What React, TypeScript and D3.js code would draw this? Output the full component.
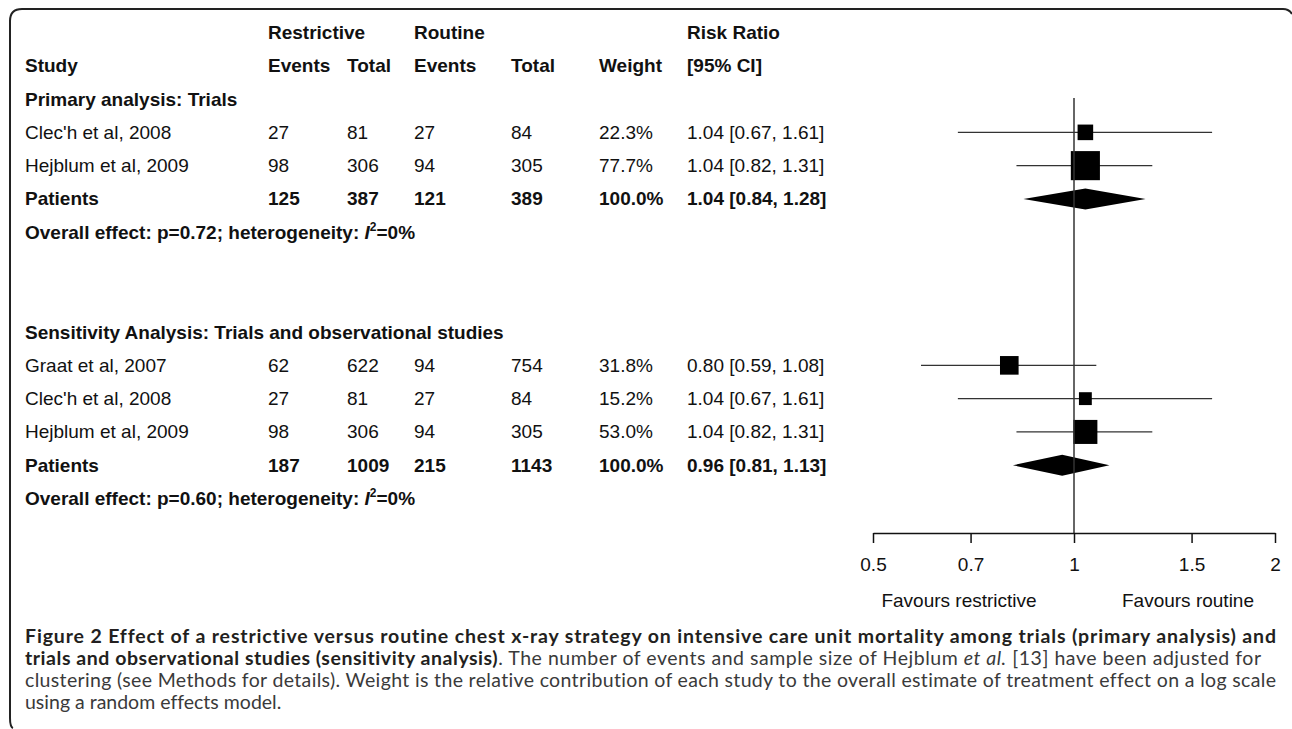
import React, { useEffect, useRef } from "react";
import * as d3 from "d3";

// primary analysis: trials
const primaryStudies = ["Clec'h et al, 2008", "Hejblum et al, 2009"];
const primaryEventsRestrictive = [27, 98];
const primaryTotalRestrictive = [81, 306];
const primaryEventsRoutine = [27, 94];
const primaryTotalRoutine = [84, 305];
const primaryWeight = [22.3, 77.7];
const primaryRR = [1.04, 1.04];
const primaryLower = [0.67, 0.82];
const primaryUpper = [1.61, 1.31];
const primaryPatients = [125, 387, 121, 389];
const primaryPooled = [1.04, 0.84, 1.28];
const primaryP = "0.72";
const primaryI2 = "0%";

// sensitivity analysis: trials and observational studies
const sensStudies = ["Graat et al, 2007", "Clec'h et al, 2008", "Hejblum et al, 2009"];
const sensEventsRestrictive = [62, 27, 98];
const sensTotalRestrictive = [622, 81, 306];
const sensEventsRoutine = [94, 27, 94];
const sensTotalRoutine = [754, 84, 305];
const sensWeight = [31.8, 15.2, 53.0];
const sensRR = [0.8, 1.04, 1.04];
const sensLower = [0.59, 0.67, 0.82];
const sensUpper = [1.08, 1.61, 1.31];
const sensPatients = [187, 1009, 215, 1143];
const sensPooled = [0.96, 0.81, 1.13];
const sensP = "0.60";
const sensI2 = "0%";

const axisTicks = [0.5, 0.7, 1, 1.5, 2];
const favourLabels = ["Favours restrictive", "Favours routine"];

const FONT = "'Liberation Sans', Arial, Helvetica, sans-serif";
const CAP_FONT = "Lato, 'Open Sans', sans-serif";

// column positions of the table
const colX = [268, 347, 414, 511, 599, 687];

const fmt2 = d3.format(".2f");
const fmtW = (w: number) => d3.format(".1f")(w) + "%";
const ci = (rr: number, lo: number, hi: number) => `${fmt2(rr)} [${fmt2(lo)}, ${fmt2(hi)}]`;

function buildSection(
  title: string, firstRow: number, names: string[], er: number[], tr: number[], eo: number[], to: number[],
  w: number[], rr: number[], lo: number[], hi: number[], patients: number[], pooled: number[], p: string, i2: string
) {
  return {
    title,
    titleRow: firstRow,
    studies: names.map((n, i) => ({
      row: firstRow + 1 + i,
      cells: [n, er[i], tr[i], eo[i], to[i], fmtW(w[i]), ci(rr[i], lo[i], hi[i])],
      weight: w[i], rr: rr[i], lo: lo[i], hi: hi[i],
    })),
    pooledRow: firstRow + 1 + names.length,
    pooledCells: ["Patients", ...patients, fmtW(100), ci(pooled[0], pooled[1], pooled[2])],
    pooled,
    overallRow: firstRow + 2 + names.length,
    p, i2,
  };
}

const sections = [
  buildSection("Primary analysis: Trials", 2, primaryStudies, primaryEventsRestrictive, primaryTotalRestrictive,
    primaryEventsRoutine, primaryTotalRoutine, primaryWeight, primaryRR, primaryLower, primaryUpper,
    primaryPatients, primaryPooled, primaryP, primaryI2),
  buildSection("Sensitivity Analysis: Trials and observational studies", 9, sensStudies, sensEventsRestrictive,
    sensTotalRestrictive, sensEventsRoutine, sensTotalRoutine, sensWeight, sensRR, sensLower, sensUpper,
    sensPatients, sensPooled, sensP, sensI2),
];

export default function App() {
  const axisRef = useRef<SVGGElement>(null);

  // row index -> text baseline
  const rowY = d3.scaleLinear().domain([0, 14]).range([39, 505]);
  const x = d3.scaleLog().domain([0.5, 2]).range([873, 1275]);
  const boxSize = d3.scaleSqrt().domain([0, 100]).range([0, 33]);
  const axisY = 533;
  const markY = (row: number) => rowY(row) - 6.5;

  useEffect(() => {
    const g = d3.select(axisRef.current);
    g.selectAll("*").remove();
    g.attr("transform", `translate(0,${axisY})`)
      .call(
        d3.axisBottom(x).tickValues(axisTicks).tickFormat(d3.format("") as any)
          .tickSize(10).tickSizeOuter(0).tickPadding(15)
      );
    g.select(".domain").attr("stroke", "#111").attr("stroke-width", 1.5);
    g.selectAll(".tick line").attr("stroke", "#111").attr("stroke-width", 1.5);
    g.selectAll(".tick text")
      .attr("font-family", FONT).attr("font-size", 19).attr("fill", "#111");
  });

  const textProps = { fontFamily: FONT, fontSize: 19, fill: "#111" };

  const renderCells = (cells: any[], row: number, bold: boolean) =>
    cells.map((c, i) => (
      <text key={i} x={i === 0 ? 25 : colX[i - 1]} y={rowY(row)} {...textProps} fontWeight={bold ? "bold" : "normal"}>
        {c}
      </text>
    ));

  const diamond = (pooled: number[], cy: number) => {
    const h = 10.5;
    return `M${x(pooled[1])},${cy}L${x(pooled[0])},${cy - h}L${x(pooled[2])},${cy}L${x(pooled[0])},${cy + h}Z`;
  };

  return (
    <svg width={1292} height={729} style={{ position: "absolute", left: 0, top: 0, background: "#fff" }}>
      {/* frame */}
      <path d="M13,728 Q10,727 10,718 L10,21 Q10,9 22,9 L1283,9 Q1289,9 1292,14" fill="none" stroke="#222" strokeWidth={2} />

      {/* headers */}
      {renderCells(["", "Restrictive", "", "Routine", "", "", "Risk Ratio"], 0, true)}
      {renderCells(["Study", "Events", "Total", "Events", "Total", "Weight", "[95% CI]"], 1, true)}

      {sections.map((s, si) => (
        <g key={si}>
          <text x={25} y={rowY(s.titleRow)} {...textProps} fontWeight="bold">{s.title}</text>
          {s.studies.map((st, k) => (
            <g key={k}>
              {renderCells(st.cells, st.row, false)}
              <line x1={x(st.lo)} x2={x(st.hi)} y1={markY(st.row)} y2={markY(st.row)} stroke="#333" strokeWidth={1.3} />
              <rect
                x={x(st.rr) - boxSize(st.weight) / 2}
                y={markY(st.row) - boxSize(st.weight) / 2}
                width={boxSize(st.weight)}
                height={boxSize(st.weight)}
                fill="#000"
              />
            </g>
          ))}
          {renderCells(s.pooledCells, s.pooledRow, true)}
          <path d={diamond(s.pooled, markY(s.pooledRow))} fill="#000" />
          <text x={25} y={rowY(s.overallRow)} {...textProps} fontWeight="bold">
            Overall effect: p={s.p}; heterogeneity: <tspan fontStyle="italic">I</tspan>
            <tspan dy={-8} fontSize={12}>2</tspan>
            <tspan dy={8}>={s.i2}</tspan>
          </text>
        </g>
      ))}

      {/* line of no effect */}
      <line x1={x(1)} x2={x(1)} y1={98} y2={axisY} stroke="#333" strokeWidth={1.5} />
      <g ref={axisRef} />
      <text x={959} y={607} {...textProps} textAnchor="middle">{favourLabels[0]}</text>
      <text x={1188} y={607} {...textProps} textAnchor="middle">{favourLabels[1]}</text>

      {/* caption */}
      <g fontFamily={CAP_FONT} fontSize={19.5} style={{ fontVariantLigatures: "none" }}>
        <text x={25} y={643} fontWeight="bold" fill="#231f20" textLength={1251} lengthAdjust="spacing">
          Figure 2 Effect of a restrictive versus routine chest x-ray strategy on intensive care unit mortality among trials (primary analysis) and
        </text>
        <text x={25} y={665} fill="#3a3a3a" textLength={1236} lengthAdjust="spacing">
          <tspan fontWeight="bold" fill="#231f20">trials and observational studies (sensitivity analysis)</tspan>. The number of events and sample size of Hejblum <tspan fontStyle="italic">et al.</tspan> [13] have been adjusted for
        </text>
        <text x={25} y={687} fill="#3a3a3a" textLength={1251} lengthAdjust="spacing">
          clustering (see Methods for details). Weight is the relative contribution of each study to the overall estimate of treatment effect on a log scale
        </text>
        <text x={25} y={709} fill="#3a3a3a">using a random effects model.</text>
      </g>
    </svg>
  );
}
